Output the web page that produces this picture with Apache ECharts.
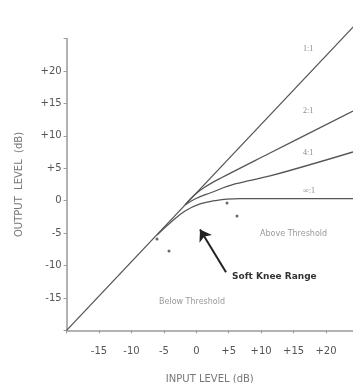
<!DOCTYPE html>
<html>
<head>
<meta charset="utf-8">
<script src="https://cdn.jsdelivr.net/npm/echarts@6/dist/echarts.min.js"></script>
<style>
  html, body { margin: 0; padding: 0; background: #fff; }
  #chart { width: 353px; height: 383px; }
</style>
</head>
<body>
<div id="chart"></div>
<script>
// 曲线数据 (input dB, output dB)
var line_1to1 = [[-20, -20], [24.2, 26.8]];
var curve_2to1 = [[-1.74, -0.66], [-0.2, 0.96], [1.34, 2.11], [3.65, 3.42], [11.36, 7.35], [24.16, 13.83]];
var curve_4to1 = [[-1.74, -0.66], [-0.2, 0.26], [2.11, 1.18], [5.96, 2.57], [11.36, 3.81], [24.16, 7.51]];
var curve_inf = [[-6.06, -5.29], [-4.05, -3.44], [-1.74, -1.6], [0.57, -0.5], [2.88, 0.0], [4.73, 0.25], [6.74, 0.3], [24.16, 0.3]];
var knee_marks = [[-6.06, -5.9], [-4.21, -7.76], [4.73, -0.35], [6.27, -2.36]];
var arrow = [[4.58, -11.05], [0.57, -4.44]];  // 尾 -> 头
var ratio_labels = ['1:1', '2:1', '4:1', '\u221e:1'];

var dom = document.getElementById('chart');
var myChart = echarts.init(dom, null, { renderer: 'canvas' });

var lineColor = '#555';
function curve(data, smooth) {
    return {
        type: 'line',
        data: data,
        smooth: smooth,
        showSymbol: false,
        clip: false,
        silent: true,
        lineStyle: { color: lineColor, width: 1.3 }
    };
}
function signed(v) {
    if (v > 0) return '+' + v;
    return '' + v;
}

var option = {
    animation: false,
    grid: { left: 66.6, right: 0, top: 38.5, bottom: 52.6, outerBoundsMode: 'none', containLabel: false },
    xAxis: {
        type: 'value',
        min: -20, max: 24.16, interval: 5,
        name: 'INPUT LEVEL (dB)',
        nameLocation: 'middle',
        nameGap: 44,
        nameTextStyle: { color: '#777', fontSize: 10, fontFamily: 'DejaVu Sans' },
        splitLine: { show: false },
        axisLine: { onZero: false, lineStyle: { color: '#999', width: 1.5 } },
        axisTick: { length: 3, lineStyle: { color: '#999' } },
        axisLabel: {
            margin: 16, color: '#555', fontSize: 10, fontFamily: 'DejaVu Sans',
            showMaxLabel: false,
            formatter: function (v) { return v <= -20 ? '' : signed(v); }
        }
    },
    yAxis: {
        type: 'value',
        min: -20, max: 25, interval: 5,
        name: 'OUTPUT  LEVEL  (dB)',
        nameLocation: 'middle',
        nameGap: 42,
        nameTextStyle: { color: '#777', fontSize: 10, fontFamily: 'DejaVu Sans' },
        splitLine: { show: false },
        axisLine: { onZero: false, lineStyle: { color: '#999', width: 1.5 } },
        axisTick: { length: 3, lineStyle: { color: '#999' } },
        axisLabel: {
            margin: 5, color: '#555', fontSize: 10, fontFamily: 'DejaVu Sans',
            formatter: function (v) { return (v <= -20 || v >= 25) ? '' : signed(v); }
        }
    },
    series: [
        curve(line_1to1, false),
        curve(curve_2to1, 0.4),
        curve(curve_4to1, 0.4),
        curve(curve_inf, 0.4),
        {
            type: 'scatter',
            data: knee_marks,
            symbolSize: 3,
            silent: true,
            itemStyle: { color: '#444' }
        },
        {
            type: 'lines',
            coordinateSystem: 'cartesian2d',
            silent: true,
            data: [{ coords: arrow }],
            symbol: ['none', 'arrow'],
            symbolSize: 11,
            lineStyle: { color: '#222', width: 2, opacity: 1 }
        }
    ],
    graphic: [
        { type: 'text', left: 303, top: 45, style: { text: ratio_labels[0], font: '8px "Liberation Serif"', fill: '#888' } },
        { type: 'text', left: 303, top: 107, style: { text: ratio_labels[1], font: '8px "Liberation Serif"', fill: '#888' } },
        { type: 'text', left: 303, top: 149, style: { text: ratio_labels[2], font: '8px "Liberation Serif"', fill: '#888' } },
        { type: 'text', left: 303, top: 187, style: { text: ratio_labels[3], font: '8px "Liberation Serif"', fill: '#888' } },
        { type: 'text', left: 260, top: 230, style: { text: 'Above Threshold', font: '8px "DejaVu Sans"', fill: '#999' } },
        { type: 'text', left: 159, top: 298, style: { text: 'Below Threshold', font: '8px "DejaVu Sans"', fill: '#999' } },
        { type: 'text', left: 232, top: 272, style: { text: 'Soft Knee Range', font: 'bold 9px "DejaVu Sans"', fill: '#333' } }
    ]
};

myChart.setOption(option);
</script>
</body>
</html>
